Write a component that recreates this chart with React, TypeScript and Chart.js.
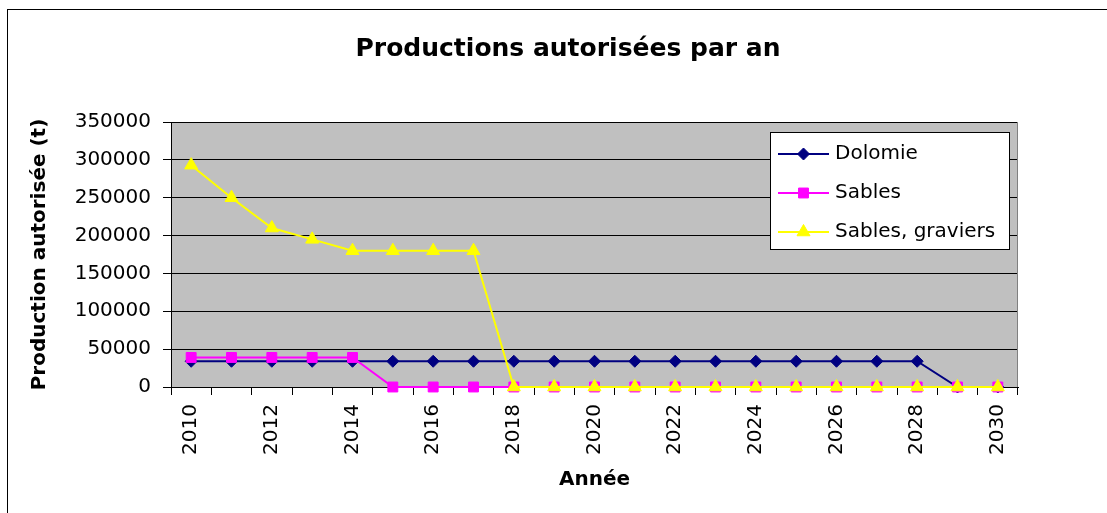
import React, { useEffect, useRef } from 'react';
import { Chart, registerables } from 'chart.js';
import { drawPoint } from 'chart.js/helpers';

Chart.register(...registerables);

// ---- data ----
const years = ['2010', '2011', '2012', '2013', '2014', '2015', '2016', '2017', '2018', '2019', '2020',
  '2021', '2022', '2023', '2024', '2025', '2026', '2027', '2028', '2029', '2030'];
const dolomie = [34000, 34000, 34000, 34000, 34000, 34000, 34000, 34000, 34000, 34000, 34000,
  34000, 34000, 34000, 34000, 34000, 34000, 34000, 34000, 0, 0];
const sables = [39000, 39000, 39000, 39000, 39000, 0, 0, 0, 0, 0, 0,
  0, 0, 0, 0, 0, 0, 0, 0, 0, 0];
const sablesGraviers = [293000, 250000, 210000, 195000, 180000, 180000, 180000, 180000, 0, 0, 0,
  0, 0, 0, 0, 0, 0, 0, 0, 0, 0];
const seriesNames = ['Dolomie', 'Sables', 'Sables, graviers'];
const yMin = 0;
const yMax = 350000;
const yStep = 50000;
const chartTitle = 'Productions autorisées par an';
const xTitle = 'Année';
const yTitle = 'Production autorisée (t)';

// ---- styles ----
const FONT = "'DejaVu Sans', Verdana, sans-serif";
const seriesColors = ['#000080', '#FF00FF', '#FFFF00'];
const pointStyles = ['rectRot', 'rect', 'triangle'];
const pointRadii = [6, 7, 7.5];

const plotBg = {
  id: 'plotBg',
  beforeDraw(chart: any) {
    const { ctx, chartArea: a } = chart;
    ctx.save();
    ctx.fillStyle = '#C0C0C0';
    ctx.fillRect(a.left, a.top, a.right - a.left, a.bottom - a.top);
    ctx.restore();
  },
  beforeDatasetsDraw(chart: any) {
    const { ctx, chartArea: a } = chart;
    ctx.save();
    ctx.strokeStyle = '#808080';
    ctx.lineWidth = 1;
    ctx.beginPath();
    const x = Math.round(a.right) - 0.5;
    ctx.moveTo(x, a.top);
    ctx.lineTo(x, a.bottom);
    ctx.stroke();
    ctx.restore();
  },
};

const boxLegend = {
  id: 'boxLegend',
  afterDraw(chart: any) {
    const { ctx, chartArea: a } = chart;
    const w = 239;
    const h = 117;
    const left = Math.round(a.right) - 9 - w;
    const top = Math.round(a.top) + 10;
    ctx.save();
    ctx.fillStyle = '#FFFFFF';
    ctx.fillRect(left, top, w, h);
    ctx.strokeStyle = '#000000';
    ctx.lineWidth = 1;
    ctx.strokeRect(left + 0.5, top + 0.5, w, h);
    const rows = [22, 61, 100];
    seriesNames.forEach((name, i) => {
      const y = top + rows[i];
      ctx.strokeStyle = seriesColors[i];
      ctx.lineWidth = 2;
      ctx.beginPath();
      ctx.moveTo(left + 8, y);
      ctx.lineTo(left + 59, y);
      ctx.stroke();
      ctx.fillStyle = seriesColors[i];
      ctx.strokeStyle = seriesColors[i];
      ctx.lineWidth = 1;
      drawPoint(ctx, { pointStyle: pointStyles[i], rotation: 0, radius: pointRadii[i], borderWidth: 1 } as any, left + 33.5, y);
      ctx.fillStyle = '#000000';
      ctx.font = `20px ${FONT}`;
      ctx.textAlign = 'left';
      ctx.textBaseline = 'middle';
      ctx.fillText(name, left + 65, y);
    });
    ctx.restore();
  },
};

export default function App() {
  const ref = useRef<HTMLCanvasElement | null>(null);

  useEffect(() => {
    if (!ref.current) return;
    const series = [dolomie, sables, sablesGraviers];
    const chart = new Chart(ref.current, {
      type: 'line',
      data: {
        labels: years,
        datasets: series.map((d, i) => ({
          label: seriesNames[i],
          data: d,
          borderColor: seriesColors[i],
          backgroundColor: seriesColors[i],
          borderWidth: 2,
          pointStyle: pointStyles[i] as any,
          pointRadius: pointRadii[i],
          pointBorderWidth: 1,
          pointBorderColor: seriesColors[i],
          pointBackgroundColor: seriesColors[i],
          tension: 0,
          fill: false,
          clip: false as any,
          order: 3 - i,
          yAxisID: 'y',
        })),
      },
      options: {
        animation: false,
        responsive: false,
        devicePixelRatio: 1,
        layout: { padding: { left: 0, right: 0, top: 0, bottom: 21 } },
        plugins: {
          legend: { display: false },
          tooltip: { enabled: false },
          title: {
            display: true,
            text: chartTitle,
            color: '#000000',
            font: { family: FONT, size: 25, weight: 'bold' },
            padding: { top: 34, bottom: 58 },
          },
        },
        scales: {
          x: {
            type: 'category',
            offset: true,
            grid: {
              offset: true,
              drawOnChartArea: false,
              drawTicks: true,
              tickLength: 8,
              color: '#000000',
              lineWidth: 1,
            },
            border: { display: true, color: '#000000', width: 1 },
            ticks: {
              autoSkip: false,
              minRotation: 90,
              maxRotation: 90,
              padding: 9,
              color: '#000000',
              font: { family: FONT, size: 20 },
              callback: (_v: any, index: number) => (index % 2 === 0 ? years[index] : ''),
            },
            title: {
              display: true,
              text: xTitle,
              color: '#000000',
              font: { family: FONT, size: 20, weight: 'bold' },
              padding: { top: 0, bottom: 0 },
            },
            afterFit: (scale: any) => { scale.height = 105; },
          },
          y: {
            position: 'left',
            min: yMin,
            max: yMax,
            grid: {
              drawOnChartArea: true,
              drawTicks: true,
              tickLength: 8,
              color: '#000000',
              lineWidth: 1,
            },
            border: { display: true, color: '#000000', width: 1 },
            ticks: {
              stepSize: yStep,
              padding: 12,
              color: '#000000',
              font: { family: FONT, size: 20 },
              callback: (v: any) => String(v),
            },
            title: {
              display: true,
              text: yTitle,
              color: '#000000',
              font: { family: FONT, size: 20, weight: 'bold' },
              padding: { top: 28, bottom: 0 },
            },
            afterFit: (scale: any) => { scale.width = 171; },
          },
          spacer: {
            type: 'linear',
            position: 'right',
            display: true,
            grid: { display: false, drawTicks: false },
            border: { display: false },
            ticks: { display: false },
            title: { display: false },
            afterFit: (scale: any) => { scale.width = 118; },
          },
        },
      },
      plugins: [plotBg, boxLegend],
    });
    return () => chart.destroy();
  }, []);

  return (
    <div style={{ position: 'absolute', left: 0, top: 0, width: 1107, height: 513, overflow: 'hidden', background: '#FFFFFF' }}>
      <div style={{ position: 'absolute', left: 7, top: 9, width: 1200, height: 600, border: '1px solid #000000' }} />
      <canvas ref={ref} width={1136} height={513} style={{ position: 'absolute', left: 0, top: 0, width: 1136, height: 513 }} />
    </div>
  );
}
